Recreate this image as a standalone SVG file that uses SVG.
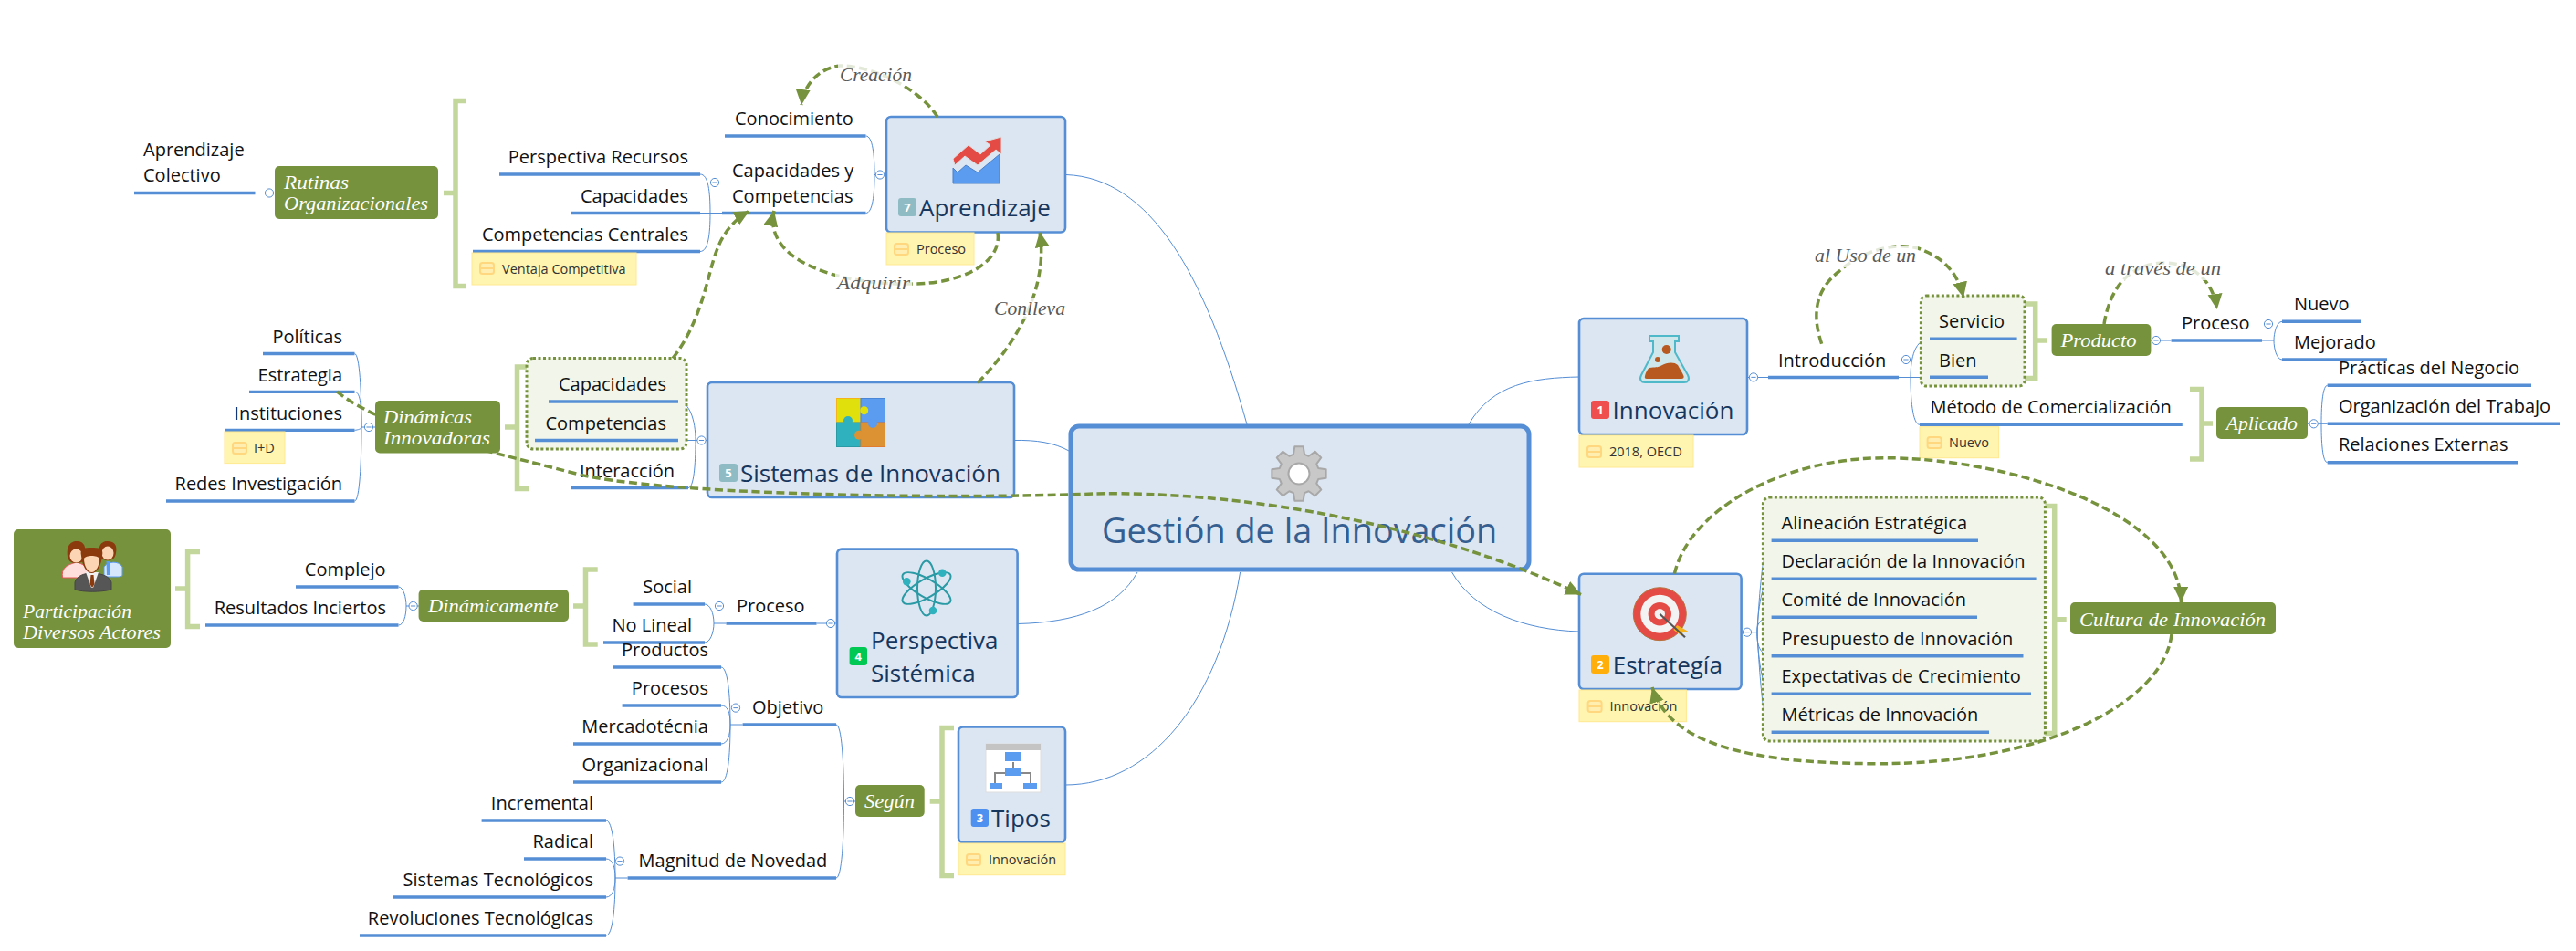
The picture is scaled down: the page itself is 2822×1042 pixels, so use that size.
<svg xmlns="http://www.w3.org/2000/svg" xmlns:xlink="http://www.w3.org/1999/xlink" width="2822" height="1042" viewBox="0 0 2822 1042">
<style>
text{font-family:"Open Sans","Noto Sans","DejaVu Sans",sans-serif;}
.t{font-size:20px;fill:#111;}
.e{text-anchor:end;}
.u{stroke:#558ed5;stroke-width:3.4;fill:none;}
.c{stroke:#558ed5;stroke-width:1;fill:none;}
.box{fill:#dce6f2;stroke:#558ed5;stroke-width:2.6;}
.title{font-size:26px;fill:#17365d;}
.ol{fill:#76923c;}
.it{font-family:"Liberation Serif",serif;font-style:italic;font-size:22px;fill:#fff;}
.lab{font-family:"Liberation Serif",serif;font-style:italic;font-size:20px;fill:#595959;}
.labbg{fill:#fff;opacity:.8;}
.br{stroke:#c3d69b;stroke-width:5.5;fill:none;}
.dot{fill:#f2f6ea;stroke:#76923c;stroke-width:3;stroke-dasharray:3 2.5;}
.nt{fill:#fff5b1;stroke:#ffe88f;stroke-width:1;}
.ntx{font-size:14.5px;fill:#333;}
.rel{stroke:#76923c;stroke-width:3.5;stroke-dasharray:9 4.5;fill:none;marker-end:url(#ah);}
.bt{font-size:13px;fill:#fff;font-weight:700;text-anchor:middle;}
</style>
<defs>
<marker id="ah" markerUnits="userSpaceOnUse" markerWidth="20" markerHeight="18" refX="17" refY="8" orient="auto"><path d="M0,0L17,8L0,16Z" fill="#76923c"/></marker>
<g id="cc"><circle r="4.6" fill="#fff" stroke="#558ed5" stroke-width="1"/><path d="M-2.6,0H2.6" stroke="#558ed5" stroke-width="1"/></g>
<g id="ni"><rect x="0" y="0" width="15" height="12" rx="2.5" fill="#ffeeb0" stroke="#ffd77f" stroke-width="2"/><path d="M0,6H15" stroke="#ffd77f" stroke-width="2"/></g>
</defs>
<rect width="2822" height="1042" fill="#fff"/>

<g id="connectors">
<path class="c" d="M1168,191.5C1260,195 1320,300 1366,465"/>
<path class="c" d="M1111,482.5C1135,482 1155,485 1171,494"/>
<path class="c" d="M1115,683.5C1180,682 1225,665 1246,627"/>
<path class="c" d="M1167,860C1260,860 1335,770 1358.6,627"/>
<path class="c" d="M1730,413C1680,414 1635,420 1609,465"/>
<path class="c" d="M1730,692C1670,690 1615,670 1590.6,627"/>
<path class="c" d="M279,211.5H301M791,233.5H767M958,191.5H971"/>
<path class="c" d="M778,233.5C778,210 776,191 767,191M778,233.5C778,256 776,275.5 767,275.5"/>
<path class="c" d="M948.5,149C956,149 958,170 958,191.5C958,213 956,233.5 948.5,233.5"/>
<path class="c" d="M388.5,387.5C394,388 396,430 396,468C396,440 394,429.4 388.5,429.4M388.5,471.4C392,471 396,470 396,468C396,505 394,549 388.5,549"/>
<path class="c" d="M396,468H411"/>
<path class="c" d="M743,440C755,440 762,460 762,482.5C762,510 760,534.5 754,534.5M743,482.5H775"/>
<path class="c" d="M436.5,643C442,643 445,655 445,664C445,675 442,685 436.5,685M445,664H459"/>
<path class="c" d="M772,662C778,662 782,672 782,683C782,693 778,704 772,704M782,683H795.5M894.5,683H917"/>
<path class="c" d="M790,731C797,731 800,760 800,794C800,780 797,773 790,773M790,815C797,815 800,805 800,794C800,830 797,857 790,857M800,794H813.6"/>
<path class="c" d="M664,899C671,899 674,930 674,962C674,950 671,941 664,941M664,983C671,983 674,973 674,962C674,995 671,1025 664,1025M674,962H687.6"/>
<path class="c" d="M916,794C922,794 924.5,835 924.5,878C924.5,920 922,962 916,962M924.5,878H937"/>
<path class="c" d="M1914,413.5H1937M2080,413.5H2114M2093,413.5C2093,400 2095,371.3 2114,371.3M2093,413.5C2093,435 2095,465.3 2103,465.3"/>
<path class="c" d="M2356,373H2378.6M2478,373H2491C2491,365 2494,352.3 2500,352.3M2491,373C2491,382 2494,394 2500,394"/>
<path class="c" d="M2528,464.3H2549.7M2543,464.3C2543,440 2545,422.3 2549.7,422.3M2543,464.3C2543,490 2545,506.7 2549.7,506.7"/>
<path class="c" d="M1907.6,692.7H1925M1925,692.7C1928,640 1932,592.3 1940.6,592.3M1925,692.7C1926,660 1932,634.3 1940.6,634.3M1925,692.7C1924,685 1928,676.3 1940.6,676.3M1925,692.7C1924,705 1928,718.7 1940.6,718.7M1925,692.7C1926,725 1932,760.3 1940.6,760.3M1925,692.7C1928,745 1932,802.3 1940.6,802.3"/>
<use href="#cc" x="295" y="211.5"/><use href="#cc" x="783" y="200"/><use href="#cc" x="964" y="191.5"/>
<use href="#cc" x="404" y="468"/><use href="#cc" x="768.5" y="482.5"/><use href="#cc" x="452.6" y="664"/>
<use href="#cc" x="788" y="664"/><use href="#cc" x="910" y="683"/><use href="#cc" x="806" y="775.6"/>
<use href="#cc" x="679" y="943.6"/><use href="#cc" x="931" y="878"/><use href="#cc" x="1921" y="413.4"/>
<use href="#cc" x="2088" y="394"/><use href="#cc" x="2362" y="373"/><use href="#cc" x="2485" y="355"/>
<use href="#cc" x="2534.7" y="464.3"/><use href="#cc" x="1914" y="692.7"/>
<path class="br" d="M511,110.5H499V313.5H511M486,211.5H499"/>
<path class="br" d="M579,402H566.5V535.5H579M553,468H566.5"/>
<path class="br" d="M219,604.5H205.6V686.5H219M192,645H205.6"/>
<path class="br" d="M654.7,624H641.5V706H654.7M628,664H641.5"/>
<path class="br" d="M1045,797.5H1032V959.5H1045M1018.7,878H1032"/>
<path class="br" d="M2218,333H2229.7V414.5H2218M2229.7,373H2242.6"/>
<path class="br" d="M2399,426.5H2412V503H2399M2412,464H2424"/>
<path class="br" d="M2239,554.5H2250.7V803.5H2239M2250.7,678.7H2263.7"/>
</g>

<g id="n-central"><rect class="box" style="stroke-width:5" x="1173" y="467" width="502" height="157" rx="9"/>
<polygon transform="translate(1423 519)" fill="#c8c8c8" stroke="#a8a8a8" stroke-width="2" stroke-linejoin="round" points="-6.06,-21.15 -4.69,-29.63 4.69,-29.63 6.06,-21.15 10.67,-19.24 17.63,-24.27 24.27,-17.63 19.24,-10.67 21.15,-6.06 29.63,-4.69 29.63,4.69 21.15,6.06 19.24,10.67 24.27,17.63 17.63,24.27 10.67,19.24 6.06,21.15 4.69,29.63 -4.69,29.63 -6.06,21.15 -10.67,19.24 -17.63,24.27 -24.27,17.63 -19.24,10.67 -21.15,6.06 -29.63,4.69 -29.63,-4.69 -21.15,-6.06 -19.24,-10.67 -24.27,-17.63 -17.63,-24.27 -10.67,-19.24"/>
<circle cx="1423" cy="519" r="11.5" fill="#fff" stroke="#a8a8a8" stroke-width="2"/>
<text x="1207" y="595" style="font-size:37.8px;fill:#365f91">Gestión de la Innovación</text></g>

<g id="n-aprendizaje"><rect class="box" x="971" y="128" width="196" height="126.5" rx="5"/>
<polygon points="1044,184 1049,189 1058,181 1071,189 1095,169 1095,201 1044,201" fill="#5b9bf0" stroke="#4a80c8"/>
<polygon points="1044,174 1061,159 1074,169 1085,159 1079,155 1097,150 1097,169 1091,164 1071,181 1057,171 1046,181" fill="#e54b45" stroke="#ddd"/>
<rect x="984" y="217" width="20" height="20" rx="3" fill="#8fbcc4"/><text class="bt" x="994" y="232">7</text>
<text class="title" x="1007" y="237">Aprendizaje</text></g>
<g id="n-note-proceso"><rect class="nt" x="971" y="255" width="96" height="35"/><use href="#ni" x="980" y="267"/><text class="ntx" x="1004" y="278">Proceso</text></g>
<g id="n-conocimiento"><text class="t" x="805" y="137">Conocimiento</text><path class="u" d="M794,149H948.5"/></g>
<g id="n-capcomp"><text class="t" x="802" y="193.5">Capacidades y</text><text class="t" x="802" y="221.5">Competencias</text><path class="u" d="M791,233.5H948.5"/></g>
<g id="n-persprec"><text class="t e" x="754" y="179">Perspectiva Recursos</text><path class="u" d="M547,191H767"/></g>
<g id="n-capac"><text class="t e" x="754" y="221.5">Capacidades</text><path class="u" d="M626,233.5H767"/></g>
<g id="n-compcent"><text class="t e" x="754" y="263.5">Competencias Centrales</text><path class="u" d="M518,275.5H767"/></g>
<g id="n-note-ventaja"><rect class="nt" x="517" y="277" width="180" height="35"/><use href="#ni" x="526" y="288"/><text class="ntx" x="550" y="300">Ventaja Competitiva</text></g>
<g id="n-rutinas"><rect class="ol" x="301" y="182" width="179" height="58" rx="5"/><text class="it" x="311" y="207" textLength="71" lengthAdjust="spacingAndGlyphs">Rutinas</text><text class="it" x="311" y="230" textLength="158" lengthAdjust="spacingAndGlyphs">Organizacionales</text></g>
<g id="n-aprcol"><text class="t" x="157" y="171">Aprendizaje</text><text class="t" x="157" y="199">Colectivo</text><path class="u" d="M147,211.5H279.5"/></g>

<g id="n-sistemas"><rect class="box" x="775" y="419" width="336" height="126" rx="5"/>
<rect x="916.5" y="436.5" width="26.5" height="26.5" fill="#dfe00c" stroke="#f5b51a"/><rect x="943" y="436.5" width="26.5" height="26.5" fill="#5b9bf0" stroke="#4a86d8"/><rect x="916.5" y="463" width="26.5" height="26.5" fill="#2fb2bd" stroke="#2a9aa5"/><rect x="943" y="463" width="26.5" height="26.5" fill="#dc9233" stroke="#e07b30"/>
<circle cx="946.7" cy="449.7" r="4.5" fill="#dfe00c"/><circle cx="956" cy="464" r="5" fill="#5b9bf0"/><circle cx="929" cy="461" r="5" fill="#2fb2bd"/><circle cx="941" cy="476.7" r="5" fill="#dc9233"/>
<rect x="788" y="508" width="20" height="20" rx="3" fill="#8fbcc4"/><text class="bt" x="798" y="523">5</text>
<text class="title" x="811" y="528">Sistemas de Innovación</text></g>
<g id="n-dot5"><rect class="dot" x="577" y="392.5" width="175" height="99.5" rx="7"/></g>
<g id="n-capac2"><text class="t e" x="730" y="428">Capacidades</text><path class="u" d="M601,440H743"/></g>
<g id="n-comp2"><text class="t e" x="730" y="470.5">Competencias</text><path class="u" d="M586,482.5H743"/></g>
<g id="n-interaccion"><text class="t e" x="739" y="522.5">Interacción</text><path class="u" d="M625,534.5H754"/></g>
<g id="n-politicas"><text class="t e" x="375" y="375.5">Políticas</text><path class="u" d="M288,387.5H388.5"/></g>
<g id="n-estrategia2"><text class="t e" x="375" y="417.5">Estrategia</text><path class="u" d="M273,429.4H388.5"/></g>
<g id="n-instituciones"><text class="t e" x="375" y="459.5">Instituciones</text><path class="u" d="M246,471.4H388.5"/></g>
<g id="n-note-id"><rect class="nt" x="246" y="473" width="66" height="34.6"/><use href="#ni" x="255" y="485"/><text class="ntx" x="278" y="496">I+D</text></g>
<g id="n-redes"><text class="t e" x="375" y="537">Redes Investigación</text><path class="u" d="M182,549H388.5"/></g>

<g id="n-participacion"><rect class="ol" x="15" y="580" width="172" height="130" rx="5"/>
<path d="M68.500,633C67,623 72,619 84,616C90,618 98,620 99,633Z" fill="#ffdede" stroke="#e8545a"/>
<path d="M74,610C72,595 80,593 84,593C90,593 95,596 93,610C92,615 90,617 83,617C77,617 75,614 74,610Z" fill="#8b3a0e"/><ellipse cx="83.500" cy="609" rx="7" ry="7.500" fill="#fcd5b5"/>
<path d="M114,632V621C118,615 130,614 134,621V630C134,632 130,632 128,632Z" fill="#d6e6fb" stroke="#5b9bf0"/><path d="M116.500,615H120.500L120,630H117Z" fill="#5b9bf0"/>
<path d="M109,606C107,594 115,593 118,593C124,593 129,596 127,606C126,612 123,614 118,614C113,614 110,612 109,606Z" fill="#8b3a0e"/><ellipse cx="118" cy="606" rx="6.500" ry="7.500" fill="#fcd5b5"/>
<path d="M82,646V638C84,631 92,628 101,628C110,628 120,631 122,638V646C110,649 92,649 82,646Z" fill="#565656" stroke="#444"/>
<polygon points="94,627 108,627 102,644 100,644" fill="#f0f0f0"/><polygon points="99.500,630 102.500,630 103.500,640 101,644 98.500,640" fill="#8b3a0e"/>
<path d="M89,609C87,600 93,600 100,600C108,600 114,600 112,609C111,620 106,628 100.500,628C95,628 90,620 89,609Z" fill="#8b3a0e"/><path d="M92,612C94,608 107,608 109,612C109,620 105,627 100.500,627C96,627 92,620 92,612Z" fill="#fcd5b5"/>
<text class="it" x="25" y="677" textLength="119" lengthAdjust="spacingAndGlyphs">Participación</text><text class="it" x="25" y="700" textLength="151" lengthAdjust="spacingAndGlyphs">Diversos Actores</text></g>
<g id="n-complejo"><text class="t e" x="422.6" y="631">Complejo</text><path class="u" d="M324,643H436.5"/></g>
<g id="n-resultados"><text class="t e" x="423" y="673">Resultados Inciertos</text><path class="u" d="M225,685H436.5"/></g>
<g id="n-dinamicamente"><rect class="ol" x="458.6" y="646" width="164.4" height="35" rx="5"/><text class="it" x="469" y="671" textLength="142.5" lengthAdjust="spacingAndGlyphs">Dinámicamente</text></g>
<g id="n-social"><text class="t e" x="758" y="650">Social</text><path class="u" d="M693.6,662H772"/></g>
<g id="n-nolineal"><text class="t e" x="758" y="692">No Lineal</text><path class="u" d="M661,704H772"/></g>
<g id="n-proceso4"><text class="t" x="807" y="671">Proceso</text><path class="u" d="M795.5,683H894.5"/></g>
<g id="n-perspectiva"><rect class="box" x="917" y="601.6" width="197.6" height="162.4" rx="5"/>
<g fill="none" stroke="#2a9aa5" stroke-width="2"><ellipse cx="1015" cy="644.5" rx="10" ry="30"/><ellipse cx="1015" cy="644.5" rx="10" ry="30" transform="rotate(60 1015 644.5)"/><ellipse cx="1015" cy="644.5" rx="10" ry="30" transform="rotate(-60 1015 644.5)"/></g>
<circle cx="1032.3" cy="627.7" r="4.3" fill="#2fb2bd"/><circle cx="993.3" cy="637.3" r="4.3" fill="#2fb2bd"/><circle cx="1022" cy="669" r="4.3" fill="#2fb2bd"/>
<rect x="930.6" y="709" width="19.4" height="20" rx="3" fill="#00c853"/><text class="bt" x="940.3" y="724">4</text>
<text class="title" x="954" y="711">Perspectiva</text><text class="title" x="954" y="747">Sistémica</text></g>
<g id="n-productos"><text class="t e" x="776" y="719">Productos</text><path class="u" d="M671.5,731H790"/></g>
<g id="n-procesos"><text class="t e" x="776" y="761">Procesos</text><path class="u" d="M681.6,773H790"/></g>
<g id="n-mercado"><text class="t e" x="776" y="803">Mercadotécnia</text><path class="u" d="M628,815H790"/></g>
<g id="n-organizacional"><text class="t e" x="776" y="845">Organizacional</text><path class="u" d="M628,857H790"/></g>
<g id="n-objetivo"><text class="t" x="824" y="782">Objetivo</text><path class="u" d="M813.6,794H916"/></g>
<g id="n-incremental"><text class="t e" x="650" y="887">Incremental</text><path class="u" d="M527.6,899H664"/></g>
<g id="n-radical"><text class="t e" x="650" y="929">Radical</text><path class="u" d="M574,941H664"/></g>
<g id="n-sistec"><text class="t e" x="650" y="971">Sistemas Tecnológicos</text><path class="u" d="M430,983H664"/></g>
<g id="n-revol"><text class="t e" x="650" y="1013">Revoluciones Tecnológicas</text><path class="u" d="M394,1025H664"/></g>
<g id="n-magnitud"><text class="t" x="699.6" y="950">Magnitud de Novedad</text><path class="u" d="M687.6,962H916"/></g>
<g id="n-segun"><rect class="ol" x="937" y="860" width="75.7" height="35" rx="5"/><text class="it" x="947" y="885" textLength="55" lengthAdjust="spacingAndGlyphs">Según</text></g>
<g id="n-tipos"><rect class="box" x="1050" y="796.5" width="117" height="126.5" rx="5"/>
<rect x="1080" y="815" width="60" height="53" fill="#fff" stroke="#ddd"/><rect x="1080" y="815" width="60" height="7" fill="#c4c4c4"/>
<path d="M1110,835V845M1090,858V847H1129V858" fill="none" stroke="#888" stroke-width="2"/>
<rect x="1101" y="824" width="17" height="10" fill="#5b9bf0"/><rect x="1101" y="841" width="17" height="9" fill="#5b9bf0"/><rect x="1084" y="858" width="14" height="7" fill="#5b9bf0"/><rect x="1121" y="858" width="15" height="7" fill="#5b9bf0"/>
<rect x="1063.7" y="886" width="19.3" height="20" rx="3" fill="#4d90f0"/><text class="bt" x="1073.4" y="901">3</text>
<text class="title" x="1086" y="906">Tipos</text></g>
<g id="n-note-tipos"><rect class="nt" x="1050" y="924" width="117" height="34.7"/><use href="#ni" x="1059" y="936"/><text class="ntx" x="1083" y="947">Innovación</text></g>

<g id="n-innovacion"><rect class="box" x="1730" y="349" width="184" height="127" rx="5"/>
<path d="M1807,368H1839V374H1835V386L1849,411C1851.500,416 1849,419 1845,419H1802C1798,419 1795.500,416 1798,411L1811,386V374H1807Z" fill="#cfe6ea" stroke="#4fb9c9" stroke-width="2"/>
<path d="M1802,412C1803,408 1805,404 1807,403C1813,402 1816,403 1820,400.500C1826,397 1834,396 1838,400C1840,404 1843,408 1844.500,412C1845,414 1844,415 1842,415H1804C1802,415 1801.500,414 1802,412Z" fill="#b85a1f"/><circle cx="1825.700" cy="383" r="5" fill="#b85a1f"/><circle cx="1816" cy="394" r="3" fill="#b85a1f"/>
<rect x="1743" y="439" width="20" height="20" rx="3" fill="#ef4f4f"/><text class="bt" x="1753" y="454">1</text>
<text class="title" x="1766.6" y="459">Innovación</text></g>
<g id="n-note-innov"><rect class="nt" x="1730" y="477" width="125" height="35"/><use href="#ni" x="1739" y="489"/><text class="ntx" x="1763" y="500">2018, OECD</text></g>
<g id="n-introduccion"><text class="t" x="1948" y="401.5">Introducción</text><path class="u" d="M1937,413.5H2080"/></g>
<g id="n-dot1"><rect class="dot" x="2104.4" y="324" width="113.6" height="99" rx="6"/></g>
<g id="n-servicio"><text class="t" x="2124" y="359">Servicio</text><path class="u" d="M2114,371.3H2209.6"/></g>
<g id="n-bien"><text class="t" x="2124" y="401.5">Bien</text><path class="u" d="M2114,413.3H2178"/></g>
<g id="n-metodo"><text class="t" x="2114.5" y="453.3">Método de Comercialización</text><path class="u" d="M2103,465.3H2390.8"/></g>
<g id="n-note-nuevo"><rect class="nt" x="2103" y="467.7" width="86.6" height="34"/><use href="#ni" x="2111.6" y="479"/><text class="ntx" x="2135" y="490">Nuevo</text></g>
<g id="n-producto"><rect class="ol" x="2247.6" y="355" width="108.8" height="35" rx="5"/><text class="it" x="2257.6" y="380" textLength="83" lengthAdjust="spacingAndGlyphs">Producto</text></g>
<g id="n-proceso1"><text class="t" x="2390" y="361">Proceso</text><path class="u" d="M2378.6,373H2478"/></g>
<g id="n-nuevo"><text class="t" x="2513" y="340">Nuevo</text><path class="u" d="M2500,352.3H2586"/></g>
<g id="n-mejorado"><text class="t" x="2513" y="382">Mejorado</text><path class="u" d="M2500,394H2615"/></g>
<g id="n-aplicado"><rect class="ol" x="2428" y="446" width="100" height="35" rx="5"/><text class="it" x="2438.7" y="471" textLength="78" lengthAdjust="spacingAndGlyphs">Aplicado</text></g>
<g id="n-practicas"><text class="t" x="2562" y="410">Prácticas del Negocio</text><path class="u" d="M2549.7,422.3H2773"/></g>
<g id="n-orgtrab"><text class="t" x="2562" y="452">Organización del Trabajo</text><path class="u" d="M2549.7,464.3H2804.5"/></g>
<g id="n-relext"><text class="t" x="2562" y="494">Relaciones Externas</text><path class="u" d="M2549.7,506.7H2758"/></g>

<g id="n-estrategia"><rect class="box" x="1730" y="628.7" width="177.6" height="126.3" rx="5"/>
<circle cx="1818.3" cy="672.7" r="29" fill="#e54b45" stroke="#b5723c"/><circle cx="1818.3" cy="672.7" r="21" fill="#f3f3f3"/><circle cx="1818.3" cy="672.7" r="12.7" fill="#e54b45"/><circle cx="1818.3" cy="672.7" r="5.7" fill="#f3f3f3"/>
<polygon points="1837.3,685 1849.3,691.7 1843.3,693.3 1842,696.7 1833.3,690" fill="#f5b21a"/><path d="M1818.3,672.7L1846,698.3" stroke="#555" stroke-width="2.2"/>
<rect x="1743" y="718" width="20" height="20" rx="3" fill="#ffae0a"/><text class="bt" x="1753" y="733">2</text>
<text class="title" x="1766.7" y="738">Estrategía</text></g>
<g id="n-note-estr"><rect class="nt" x="1730" y="756" width="117.4" height="34.7"/><use href="#ni" x="1739.6" y="768"/><text class="ntx" x="1763.4" y="779">Innovación</text></g>
<g id="n-dot2"><rect class="dot" x="1931.4" y="545" width="309" height="267" rx="7"/></g>
<g id="n-alineacion"><text class="t" x="1951.5" y="580">Alineación Estratégica</text><path class="u" d="M1940.6,592.3H2167"/></g>
<g id="n-declaracion"><text class="t" x="1951.5" y="622">Declaración de la Innovación</text><path class="u" d="M1940.6,634.3H2230.6"/></g>
<g id="n-comite"><text class="t" x="1951.5" y="664">Comité de Innovación</text><path class="u" d="M1940.6,676.3H2166"/></g>
<g id="n-presupuesto"><text class="t" x="1951.5" y="706.5">Presupuesto de Innovación</text><path class="u" d="M1940.6,718.7H2216.5"/></g>
<g id="n-expectativas"><text class="t" x="1951.5" y="748">Expectativas de Crecimiento</text><path class="u" d="M1940.6,760.3H2225"/></g>
<g id="n-metricas"><text class="t" x="1951.5" y="790">Métricas de Innovación</text><path class="u" d="M1940.6,802.3H2179"/></g>
<g id="n-cultura"><rect class="ol" x="2268" y="660" width="225" height="35" rx="5"/><text class="it" x="2278" y="685.5" textLength="204" lengthAdjust="spacingAndGlyphs">Cultura de Innovación</text></g>

<g id="relations">
<path class="rel" d="M1027,128C1010,100 960,72 920,72C895,75 880,95 878,115"/>
<path class="rel" d="M1093,255C1098,290 1050,311 1000,311C930,313 835,290 848,231"/>
<path class="rel" d="M1071,419.5C1120,370 1148,310 1139,254"/>
<path class="rel" d="M737,392.5C770,350 775,300 785,275C792,255 805,240 821,231"/>
<path class="rel" d="M369,429C420,470 520,490 635,520C720,540 1000,548 1200,541C1350,538 1560,570 1732,651.5"/>
<path class="rel" d="M1995.6,376.7C1983,340 1992,315 2015,297C2040,275 2075,265 2101,272C2130,282 2145,300 2151,326"/>
<path class="rel" d="M2305,355C2310,325 2325,290 2370,288C2405,288 2425,310 2428.7,339"/>
<path class="rel" d="M1834.4,628.7C1850,560 1950,502 2065,501.7C2200,502 2388,560 2389.4,660"/>
<path class="rel" d="M2379,695C2370,770 2240,838 2052,836.7C1930,836 1830,820 1810,753"/>
<g id="rel-labels">
<rect class="labbg" x="918" y="70" width="83" height="24"/><text class="lab" x="920" y="89" textLength="79" lengthAdjust="spacingAndGlyphs">Creación</text>
<rect class="labbg" x="915" y="298" width="84" height="25"/><text class="lab" x="917" y="317" textLength="80" lengthAdjust="spacingAndGlyphs">Adquirir</text>
<rect class="labbg" x="1087" y="326" width="82" height="24"/><text class="lab" x="1089" y="345" textLength="78" lengthAdjust="spacingAndGlyphs">Conlleva</text>
<rect class="labbg" x="1986" y="269" width="115" height="24"/><text class="lab" x="1988" y="287" textLength="111" lengthAdjust="spacingAndGlyphs">al Uso de un</text>
<rect class="labbg" x="2304" y="283" width="131" height="24"/><text class="lab" x="2306" y="301" textLength="127" lengthAdjust="spacingAndGlyphs">a través de un</text>
</g>
</g>
<g id="n-dinamicas"><rect class="ol" x="411" y="439" width="137" height="57.5" rx="5"/><text class="it" x="420" y="464" textLength="97" lengthAdjust="spacingAndGlyphs">Dinámicas</text><text class="it" x="420" y="487" textLength="117" lengthAdjust="spacingAndGlyphs">Innovadoras</text></g>
</svg>
